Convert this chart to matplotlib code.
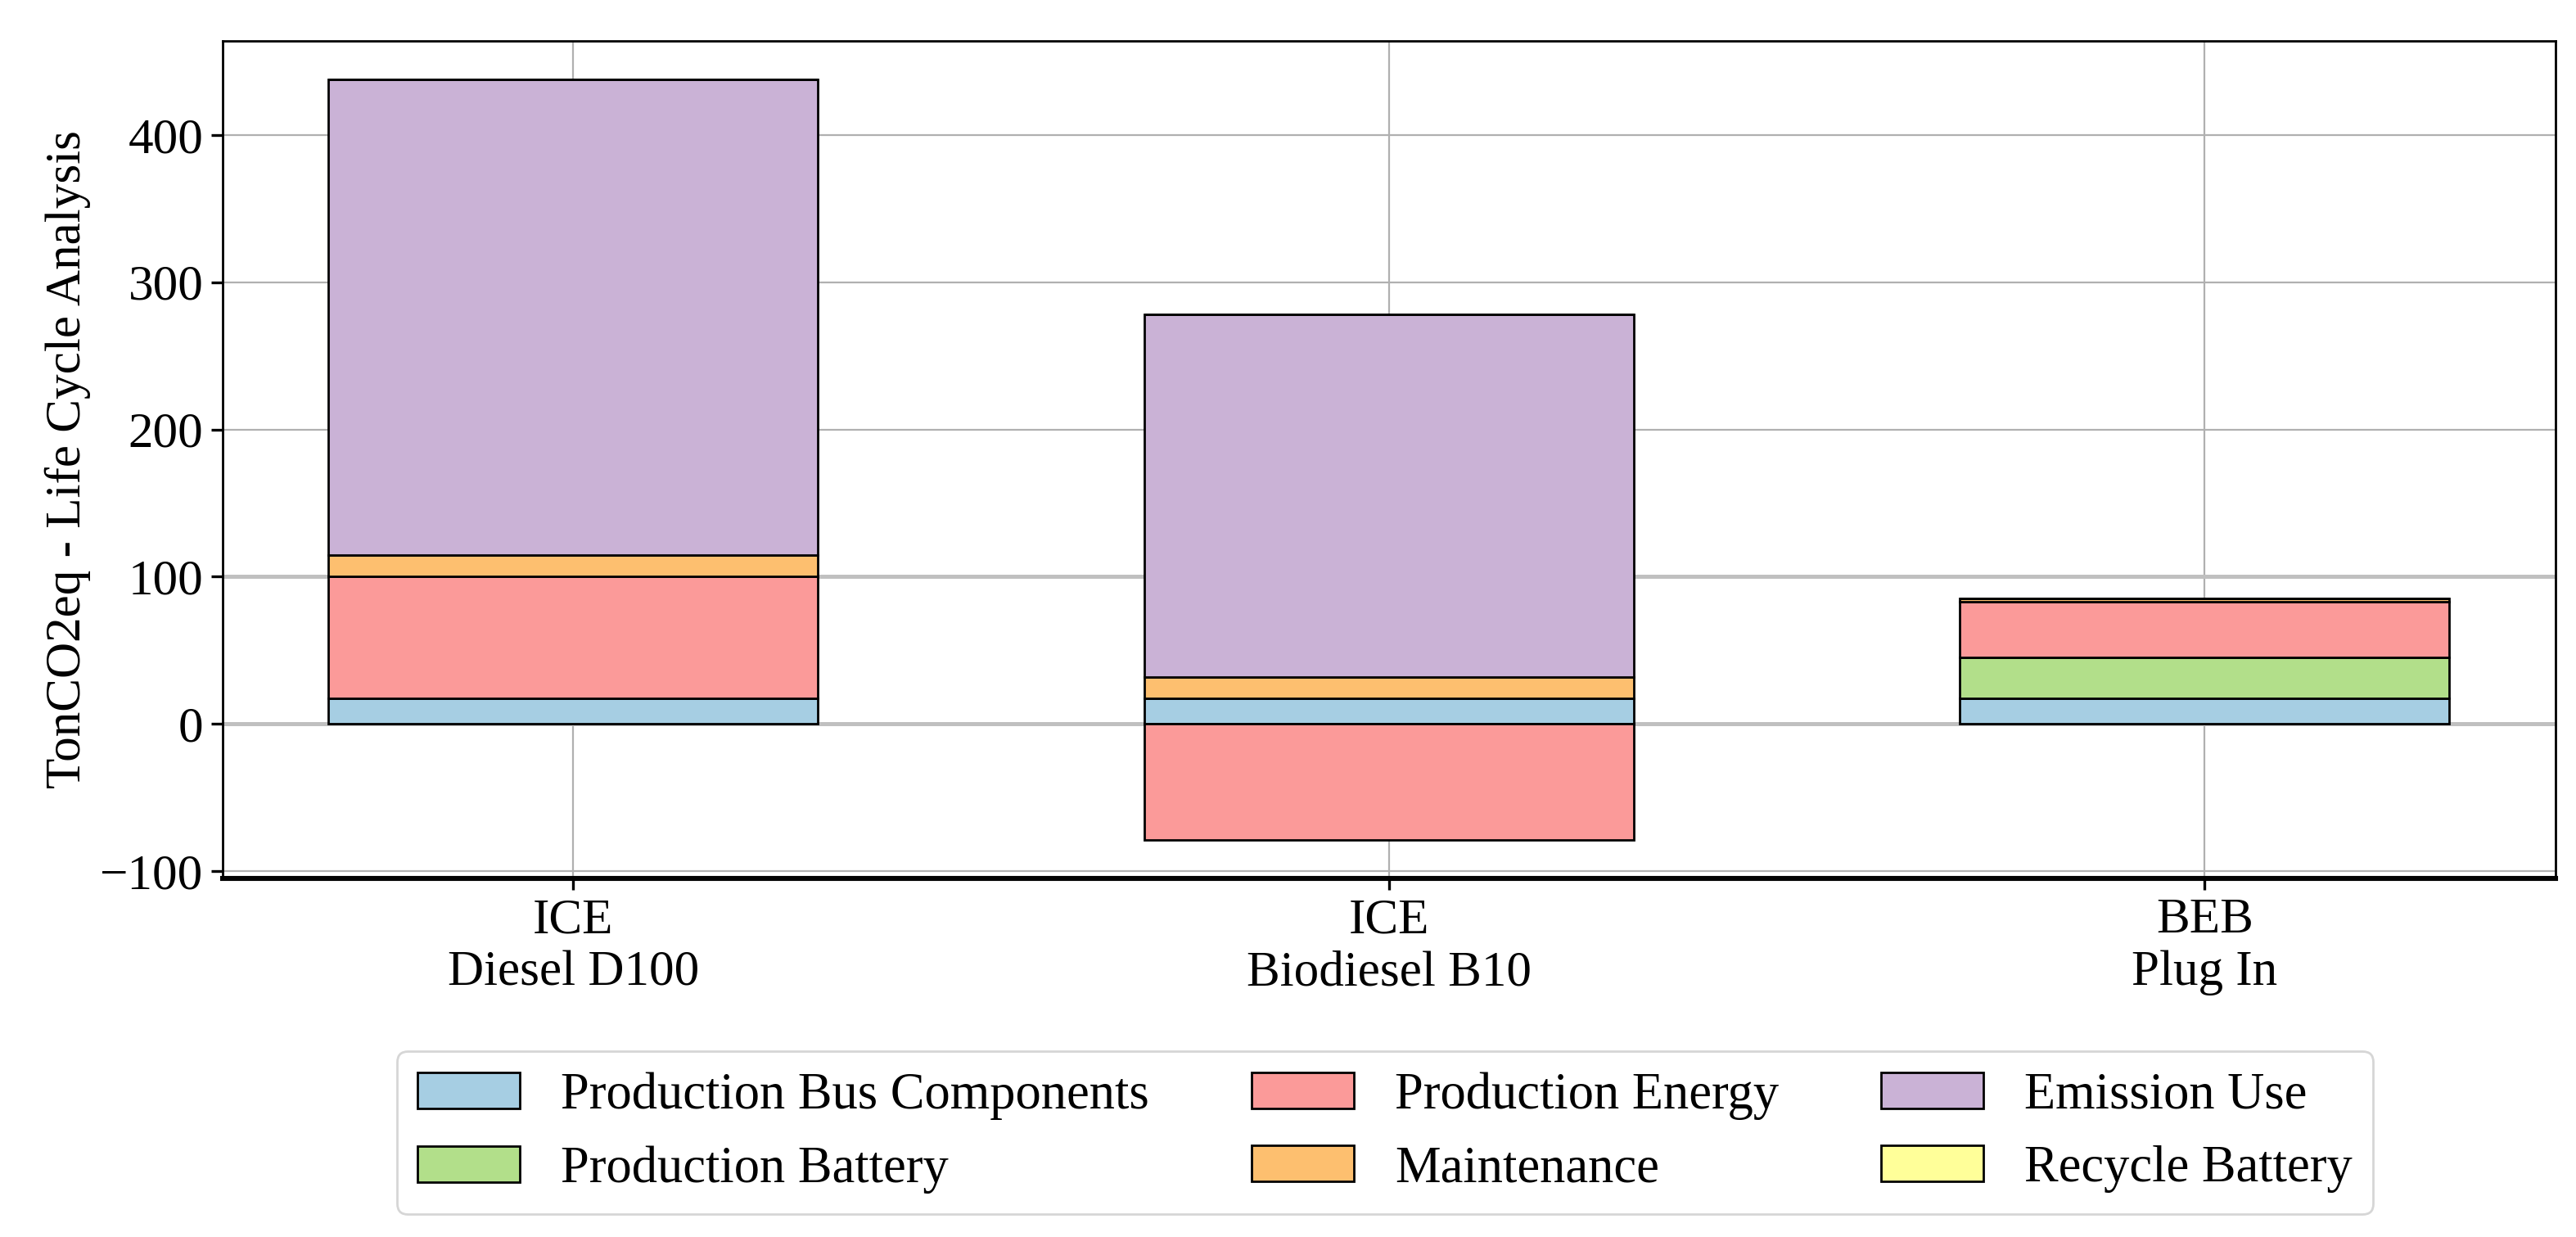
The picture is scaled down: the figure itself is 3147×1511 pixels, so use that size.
import numpy as np
import matplotlib.pyplot as plt

plt.rcParams['font.family'] = ['Liberation Serif', 'DejaVu Serif']
plt.rcParams['font.size'] = 22

# buses (x tick labels)
buses = ['ICE\nDiesel D100', 'ICE\nBiodiesel B10', 'BEB\nPlug In']

# stacked components, TonCO2eq
components = ['Production Bus Components', 'Production Battery', 'Production Energy',
              'Maintenance', 'Emission Use', 'Recycle Battery']
bus_components = [17.5, 17.5, 17.5]
battery = [0.0, 0.0, 27.5]
energy = [82.5, -79.0, 38.0]
maintenance = [14.5, 14.5, 2.0]
emission_use = [323.5, 246.0, 0.0]
recycle_battery = [0.0, 0.0, 0.0]

colors = ['#a6cee3', '#b2df8a', '#fb9a99', '#fdbf6f', '#cab2d6', '#ffff99']

series = [bus_components, battery, energy, maintenance, emission_use, recycle_battery]

fig = plt.figure(figsize=(15.735, 7.555), dpi=200)
ax = fig.add_axes([0.0864, 0.2899, 0.9056, 0.6771])

x = np.arange(len(buses))
pos_bottom = np.zeros(len(buses))
neg_bottom = np.zeros(len(buses))
for name, vals, c in zip(components, series, colors):
    vals = np.array(vals, dtype=float)
    bottom = np.where(vals >= 0, pos_bottom, neg_bottom)
    ax.bar(x, vals, 0.6, bottom=bottom, color=c, edgecolor='black',
           linewidth=1.0, label=name, zorder=3)
    pos_bottom = pos_bottom + np.where(vals > 0, vals, 0)
    neg_bottom = neg_bottom + np.where(vals < 0, vals, 0)

ax.set_axisbelow(True)
ax.grid(True, color='#b0b0b0', linewidth=0.8)
ax.axhline(0, color='#c0c0c0', linewidth=1.8, zorder=1)
ax.axhline(100, color='#c0c0c0', linewidth=1.8, zorder=1)

ax.set_xticks(x)
ax.set_xticklabels(buses)
ax.set_yticks([-100, 0, 100, 200, 300, 400])
ax.set_ylim(-105, 464)
ax.set_xlim(-0.43, 2.43)
ax.tick_params(axis='both', length=5, width=1.2)
ax.set_ylabel('TonCO2eq - Life Cycle Analysis')
ax.spines['bottom'].set_linewidth(2.2)
for s in ['left', 'top', 'right']:
    ax.spines[s].set_linewidth(1.0)

fig.legend(loc='upper center', bbox_to_anchor=(0.5377, 0.150), ncol=3,
           borderaxespad=0, fontsize=22.5)

plt.savefig('out.png', dpi=200)
